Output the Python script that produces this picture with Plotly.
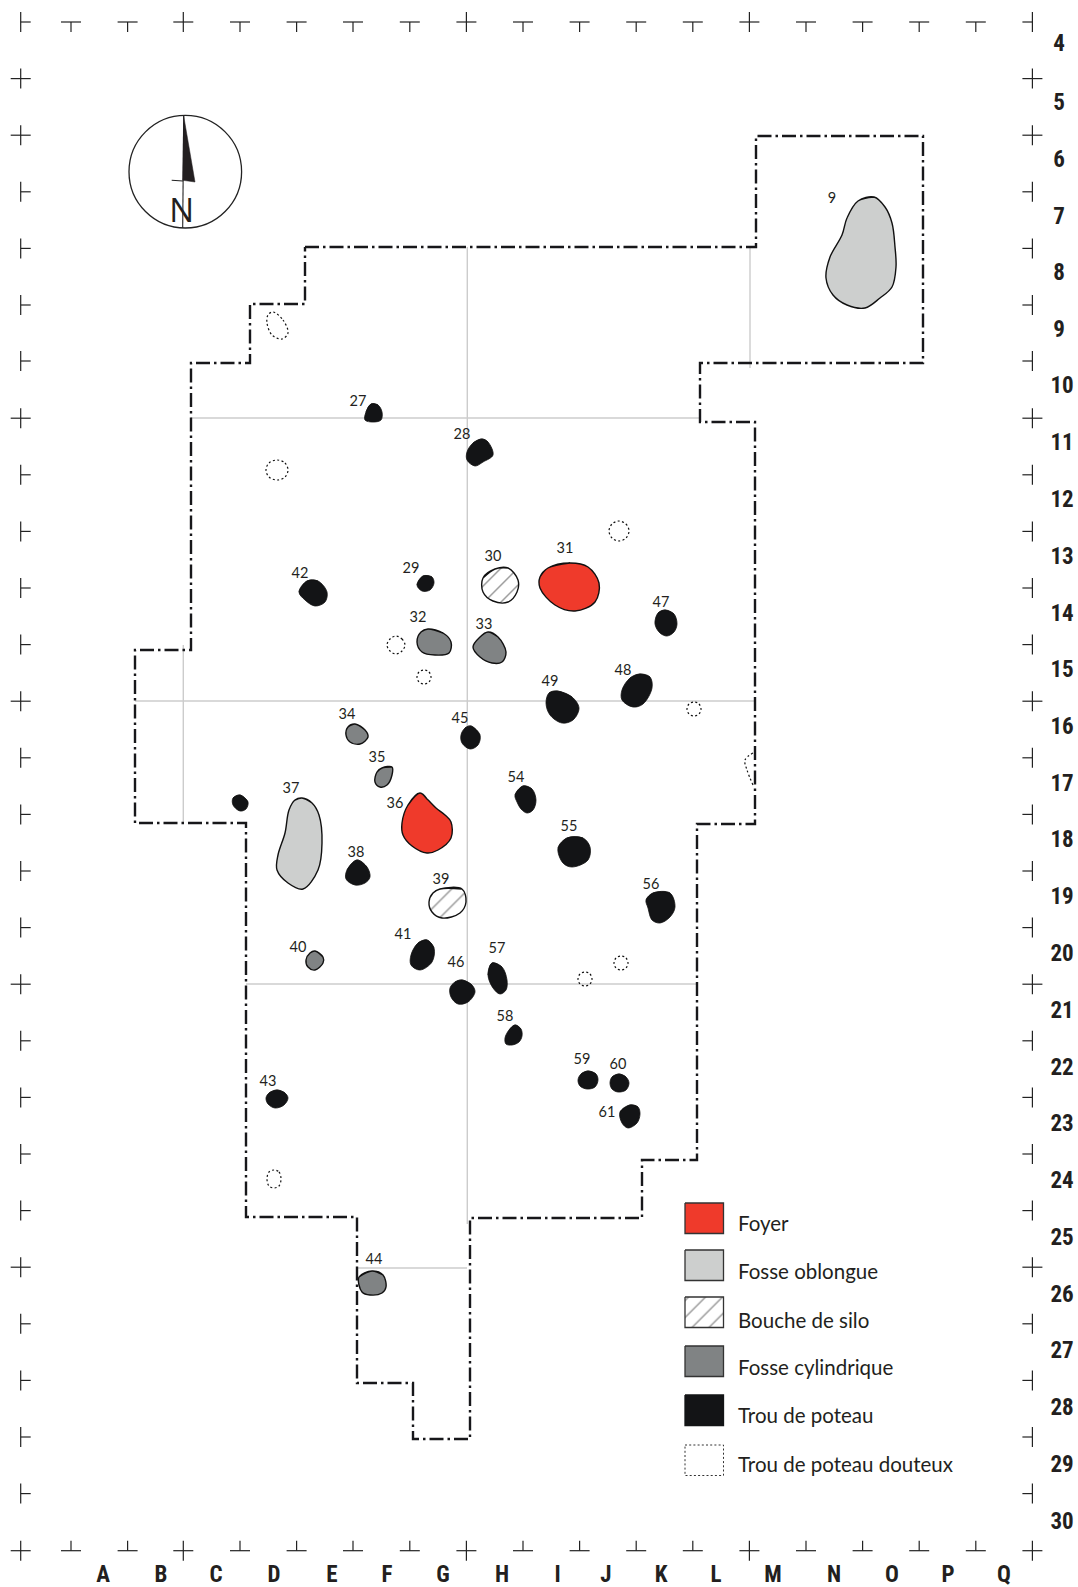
import plotly.graph_objects as go

# ---------- Data: outlines on the excavation plan (page-scaled plan units) ----------
foyer = {
    "31": [(548,568),(570,563),(588,567),(599,583),(595,602),(575,611),(555,605),(540,588),(540,577)],
    "36": [(420,793),(427,799),(436,808),(445,815),(451,822),(451,838),(438,850),(427,853),(412,846),(403,835),(402,823),(408,805)],
}
fosse_oblongue = {
    "9": [(858,201),(874,197),(885,207),(892,223),(895,247),(896,267),(892,287),(880,298),(865,308),(847,305),(833,295),(826,278),(830,257),(842,235),(847,218)],
    "37": [(302,798),(312,803),(319,815),(322,843),(318,870),(303,889),(288,883),(277,870),(278,855),(285,833),(289,810),(295,800)],
}
bouche_de_silo = {
    "30": [(495,569),(508,568),(518,580),(517,592),(508,602),(493,601),(483,592),(483,578)],
    "39": [(440,889),(462,889),(466,902),(460,913),(442,918),(432,912),(429,902),(433,893)],
}
fosse_cylindrique = {
    "32": [(428,629),(443,633),(451,642),(449,653),(435,655),(422,652),(417,642),(421,632)],
    "33": [(488,632),(498,637),(506,652),(502,662),(492,663),(480,657),(473,647),(480,637)],
    "34": [(355,724),(365,730),(368,737),(360,744),(350,742),(346,735),(348,727)],
    "35": [(382,768),(392,767),(392,775),(387,785),(380,787),(375,782),(377,772)],
    "40": [(315,951),(323,957),(323,963),(315,970),(308,967),(306,960),(310,953)],
    "44": [(372,1271),(383,1275),(386,1287),(382,1293),(370,1295),(362,1292),(359,1277)],
}
trou_de_poteau = {
    "27": [(371,404),(378,405),(382,412),(381,420),(373,422),(365,420),(366,412)],
    "28": [(482,439),(488,442),(493,455),(483,462),(475,466),(467,460),(467,452),(473,443)],
    "29": [(423,576),(432,577),(434,583),(430,590),(422,591),(417,585)],
    "38": [(357,860),(367,867),(370,877),(365,883),(355,885),(346,879),(347,870)],
    "41": [(427,940),(434,948),(432,962),(420,970),(411,965),(411,955),(418,943)],
    "42": [(307,581),(318,581),(327,592),(325,602),(315,606),(305,600),(299,592)],
    "43": [(277,1090),(285,1093),(288,1098),(284,1105),(275,1108),(268,1104),(266,1098),(269,1093)],
    "45": [(471,726),(480,735),(478,745),(470,749),(462,743),(461,735),(465,728)],
    "46": [(462,980),(472,985),(475,992),(468,1002),(458,1004),(451,997),(450,988),(455,982)],
    "47": [(665,610),(674,614),(677,624),(674,632),(667,636),(660,633),(655,624),(658,613)],
    "48": [(640,674),(650,677),(652,688),(643,704),(633,707),(622,700),(622,690),(630,678)],
    "49": [(557,691),(572,697),(579,708),(573,720),(562,723),(550,715),(546,703),(549,693)],
    "54": [(523,786),(532,789),(536,800),(533,810),(527,813),(521,809),(517,802),(515,795)],
    "55": [(567,838),(583,838),(590,847),(588,860),(572,867),(563,863),(558,848)],
    "56": [(653,893),(670,893),(675,907),(670,917),(660,923),(652,920),(648,908),(646,900)],
    "57": [(492,963),(502,967),(507,980),(506,990),(500,994),(493,988),(488,975)],
    "58": [(515,1025),(521,1029),(522,1036),(519,1042),(512,1045),(506,1044),(505,1038),(509,1030)],
    "59": [(588,1071),(596,1074),(598,1080),(595,1087),(587,1089),(580,1086),(578,1080),(581,1074)],
    "60": [(619,1074),(626,1077),(629,1083),(626,1090),(618,1092),(612,1089),(610,1083),(612,1077)],
    "61": [(630,1105),(638,1107),(640,1114),(637,1123),(628,1128),(622,1123),(620,1112)],
    "": [(240,795),(248,802),(246,809),(240,811),(233,805),(233,798)],
}
trou_douteux = [
    [(273,312),(283,320),(288,333),(282,339),(272,335),(267,323),(268,315)],
    [(277,460),(285,463),(288,470),(285,477),(277,480),(269,477),(266,470),(269,463)],
    [(619,521),(626,524),(629,531),(626,538),(619,541),(612,538),(609,531),(612,524)],
    [(396,636),(402,639),(405,645),(402,651),(396,654),(390,651),(387,645),(390,639)],
    [(424,670),(429,672),(431,677),(429,682),(424,684),(419,682),(417,677),(419,672)],
    [(694,702),(699,704),(701,709),(699,714),(694,716),(689,714),(687,709),(689,704)],
    [(621,956),(626,958),(628,963),(626,968),(621,970),(616,968),(614,963),(616,958)],
    [(585,972),(590,974),(592,979),(590,984),(585,986),(580,984),(578,979),(580,974)],
    [(274,1170),(279,1172),(281,1179),(279,1186),(274,1188),(269,1186),(267,1179),(269,1172)],
]
trou_douteux_open = [(753,753),(745,760),(747,770),(753,785)]

boundary = [(305,247),(756,247),(756,136),(923,136),(923,363),(700,363),(700,422),(755,422),(755,824),
            (697,824),(697,1160),(642,1160),(642,1218),(470,1218),(470,1439),(413,1439),(413,1383),
            (357,1383),(357,1217),(246,1217),(246,823),(135,823),(135,650),(191,650),(191,363),
            (250,363),(250,304),(305,304),(305,247)]
grid_lines = [[(183.3,645),(183.3,823)],[(135,701),(755,701)],[(467.3,247),(467.3,1224)],
              [(191,418),(700,418)],[(246,984),(697,984)],[(357,1268),(467,1268)],[(750,247),(750,368)]]

label_pos = {"9":(832,199),"27":(358,402),"28":(462,435),"29":(411,569),"30":(493,557),"31":(565,549),
    "32":(418,618),"33":(484,625),"34":(347,715),"35":(377,758),"36":(395,804),"37":(291,789),
    "38":(356,853),"39":(441,880),"40":(298,948),"41":(403,935),"42":(300,574),"43":(268,1082),
    "44":(374,1260),"45":(460,719),"46":(456,963),"47":(661,603),"48":(623,671),"49":(550,682),
    "54":(516,778),"55":(569,827),"56":(651,885),"57":(497,949),"58":(505,1017),"59":(582,1060),
    "60":(618,1065),"61":(607,1113)}

col_labels = list("ABCDEFGHIJKLMNOPQ")
col_x = [103,161,216,274,332,387,443,502,557.5,606,661,716,773,834,892,948,1004]
row_labels = [str(n) for n in range(4,31)]
row_y = [45,104,161,218,274,331,387,444,501,558,615,671,728,785,841,898,955,1012,1069,1125,1182,1239,1296,1352,1409,1466,1523]

tick_x = [71,127.6,183.3,240,296.6,353,409.8,466.4,523,579.6,636.2,692.8,749.4,806,862.6,919.2,975.8,1032.4]
tick_y = [22,78.6,135.2,191.8,248.4,305,361,418.2,474.8,531.4,588,644.6,701.2,757.8,814.4,871,927.6,984.2,1040.8,1097.4,1154,1210.6,1267.2,1323.8,1380.4,1437,1493.6,1550.7]
major_x = [183.3,466.4,749.4,1032.4]
major_y = [78.6,135.2,418.2,701.2,984.2,1267.2,1550.7]

legend_names = ["Foyer","Fosse oblongue","Bouche de silo","Fosse cylindrique","Trou de poteau","Trou de poteau douteux"]
legend_top = [1203,1250,1297,1346,1395,1445]
legend_text_y = [1226,1274,1323,1370,1418,1467]

# ---------- Styles ----------
RED, LIGHT, MID, BLACK = "#EF3A2B", "#CDCFCE", "#808384", "#131416"
HATCH = dict(shape="/", size=12, solidity=0.12, fgcolor="#333333", bgcolor="#ffffff")
LAB = "Lato, 'Open Sans', sans-serif"
AXF = "'Roboto Condensed', 'Noto Sans Condensed', 'Open Sans Condensed', 'Open Sans', sans-serif"

fig = go.Figure()

def xy(pts):
    return [p[0] for p in pts], [p[1] for p in pts]

def add_line(pts, color, width, dash="solid", shape="linear"):
    x, y = xy(pts)
    fig.add_trace(go.Scatter(x=x, y=y, mode="lines", hoverinfo="skip",
                             line=dict(color=color, width=width, dash=dash, shape=shape)))

def add_blob(pts, fill, lw=1.4, pattern=None, lc="#111111", dash="solid", wrap=True):
    # retrace one point on each side so that the spline closes without a kink
    path = [pts[-1]] + pts + [pts[0], pts[1]] if wrap else pts + [pts[0]]
    x, y = xy(path)
    kw = dict(fillpattern=pattern) if pattern else {}
    fig.add_trace(go.Scatter(x=x, y=y, mode="lines", fill="toself", fillcolor=fill, hoverinfo="skip",
                             line=dict(color=lc, width=lw, shape="spline", smoothing=1.0, dash=dash, simplify=False), **kw))

def add_rect(left, top, fill, pattern=None, lc="#333333", dash="solid", lw=1.3):
    w, h = 38.5, 30.5
    pts = [(left,top),(left+w,top),(left+w,top+h),(left,top+h),(left,top)]
    x, y = xy(pts)
    kw = dict(fillpattern=pattern) if pattern else {}
    fig.add_trace(go.Scatter(x=x, y=y, mode="lines", fill="toself", fillcolor=fill, hoverinfo="skip",
                             line=dict(color=lc, width=lw, dash=dash), **kw))

for seg_pts in grid_lines:
    add_line(seg_pts, "#CCCCCC", 1.4)

# crosses around the plan
cx, cy = [], []
def seg(x0, y0, x1, y1):
    cx.extend([x0, x1, None]); cy.extend([y0, y1, None])
L = 10
LEFT = 20.7
for v in tick_y:
    full = v in major_y
    seg(LEFT - (L if full else 0), v, LEFT + L, v); seg(LEFT, v - L, LEFT, v + L)
    seg(tick_x[-1] - L, v, tick_x[-1] + (L if full else 0), v); seg(tick_x[-1], v - L, tick_x[-1], v + L)
for u in tick_x[:-1]:
    full = u in major_x
    seg(u - L, tick_y[0], u + L, tick_y[0]); seg(u, tick_y[0] - (L if full else 0), u, tick_y[0] + L)
    seg(u - L, tick_y[-1], u + L, tick_y[-1]); seg(u, tick_y[-1] - L, u, tick_y[-1] + (L if full else 0))
fig.add_trace(go.Scatter(x=cx, y=cy, mode="lines", hoverinfo="skip", line=dict(color="#222222", width=1.2)))

# features
for pts in foyer.values():
    add_blob(pts, RED)
for pts in fosse_oblongue.values():
    add_blob(pts, LIGHT)
for pts in bouche_de_silo.values():
    add_blob(pts, "#ffffff", pattern=HATCH)
for pts in fosse_cylindrique.values():
    add_blob(pts, MID)
for pts in trou_de_poteau.values():
    add_blob(pts, BLACK, lw=0.8)
for pts in trou_douteux:
    add_blob(pts, "rgba(255,255,255,0)", lw=1.2, lc="#111111", dash="2px,2.4px", wrap=False)
add_line(trou_douteux_open, "#111111", 1.2, dash="2px,2.4px", shape="spline")

# limit of the excavated area
add_line(boundary, "#17171A", 2.4, dash="14px,4px,2.5px,4px")

# compass
fig.add_shape(type="circle", x0=129, x1=241.6, y0=115.4, y1=228, line=dict(color="#222222", width=1.3))
add_line([(183.7,116),(182.7,227.7)], "#222222", 1.1)
add_line([(171.7,180.3),(183,181)], "#222222", 1.1)
tx, ty = xy([(183.7,116),(195,182),(182.7,180.3),(183.7,116)])
fig.add_trace(go.Scatter(x=tx, y=ty, mode="lines", fill="toself", fillcolor="#231F20", hoverinfo="skip",
                         line=dict(color="#231F20", width=0.5)))

# legend
lf = 685
add_rect(lf, legend_top[0], RED)
add_rect(lf, legend_top[1], LIGHT)
add_rect(lf, legend_top[2], "#ffffff", pattern=HATCH)
add_rect(lf, legend_top[3], MID)
add_rect(lf, legend_top[4], BLACK, lc=BLACK)
add_rect(lf, legend_top[5], "#ffffff", lc="#333333", dash="2px,2.2px", lw=1)

def add_text(xs, ys, texts, font, size, pos="middle center", color="#231F20"):
    fig.add_trace(go.Scatter(x=xs, y=ys, text=texts, mode="text", textposition=pos, hoverinfo="skip",
                             textfont=dict(family=font, size=size, color=color)))

add_text([p[0] for p in label_pos.values()], [p[1] for p in label_pos.values()], list(label_pos.keys()), LAB, 14.5)
add_text([738]*6, legend_text_y, legend_names, LAB, 20.5, pos="middle right")
add_text(col_x, [1576]*len(col_x), [f"<b>{t}</b>" for t in col_labels], AXF, 23)
add_text([1059 if len(t) == 1 else 1062 for t in row_labels], row_y, [f"<b>{t}</b>" for t in row_labels], AXF, 23)
add_text([181.7], [213.5], ["N"], "'Open Sans', sans-serif", 33)

fig.update_layout(width=1078, height=1587, margin=dict(l=0, r=0, t=0, b=0), autosize=False,
                  showlegend=False, paper_bgcolor="white", plot_bgcolor="white",
                  xaxis=dict(range=[0,1078], visible=False, fixedrange=True),
                  yaxis=dict(range=[1587,0], visible=False, fixedrange=True))

fig.write_html("out.html", config=dict(displayModeBar=False),
               post_script="document.body.style.margin='0';document.body.style.overflow='hidden';")
